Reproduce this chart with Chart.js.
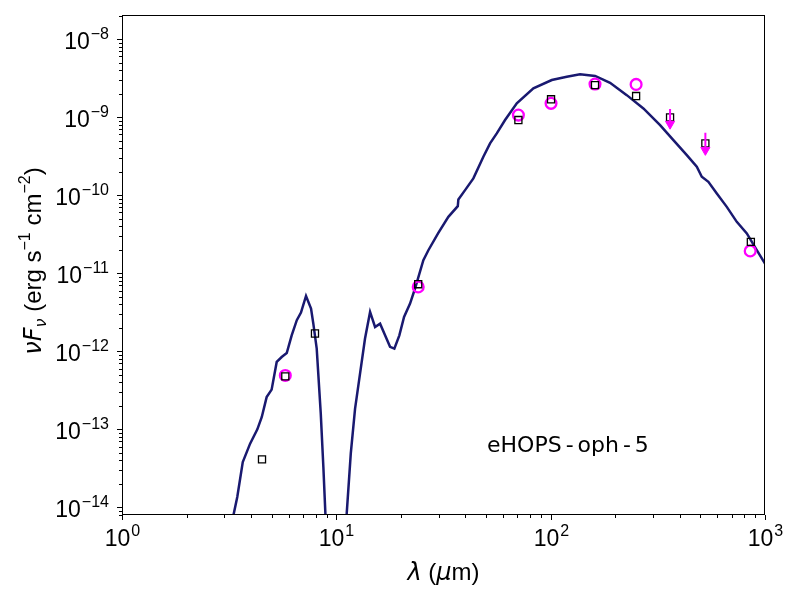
<!DOCTYPE html>
<html>
<head>
<meta charset="utf-8">
<script src="https://cdn.jsdelivr.net/npm/chart.js@4"></script>
<style>body{margin:0;background:#fff}</style>
</head>
<body>
<canvas id="sed" width="800" height="600"></canvas>
<script>
// model SED (wavelength in micron, nuFnu in erg/s/cm2)
const modelWave = [3.14, 3.45, 3.66, 3.96, 4.28, 4.49, 4.73, 4.99, 5.27, 5.56,
    5.87, 6.19, 6.54, 6.84, 7.22, 7.62, 7.81, 8.10, 8.46, 8.70,
    8.89, 9.3, 10.7, 11.18, 11.68, 12.23, 12.90, 13.61, 14.37, 15.16,
    16.00, 16.88, 17.81, 18.65, 19.68, 20.70, 22.08, 23.29, 25.47, 26.88,
    29.92, 33.32, 36.87, 37.10, 39.87, 43.59, 48.53, 52.15, 56.05, 61.27,
    69.49, 83.06, 101.2, 118.9, 137.1, 161.2, 189.3, 226.5, 270.8, 324.0,
    373.8, 431.7, 480.6, 507.0, 544.3, 595.9, 663.3, 738.5, 822.6, 915.6, 1000];
const modelFlux = [4e-15, 1.36e-14, 3.81e-14, 6.56e-14, 1.0e-13, 1.44e-13, 2.59e-13, 3.23e-13, 7.3e-13, 8.45e-13,
    9.5e-13, 1.60e-12, 2.50e-12, 3.13e-12, 5.12e-12, 3.53e-12, 2.26e-12, 1.08e-12, 1.59e-13, 3.29e-14,
    8.4e-15, 1e-16, 1e-16, 8.4e-15, 4.92e-14, 1.84e-13, 5.18e-13, 1.46e-12, 3.19e-12, 2.05e-12,
    2.26e-12, 1.60e-12, 1.14e-12, 1.08e-12, 1.60e-12, 2.75e-12, 4.09e-12, 6.37e-12, 1.47e-11, 1.97e-11,
    3.29e-11, 5.27e-11, 7.23e-11, 8.81e-11, 1.16e-10, 1.64e-10, 3.10e-10, 4.60e-10, 6.18e-10, 9.16e-10,
    1.50e-9, 2.33e-9, 2.98e-9, 3.29e-9, 3.53e-9, 3.36e-9, 2.75e-9, 1.91e-9, 1.29e-9, 7.89e-10,
    5.07e-10, 3.26e-10, 2.31e-10, 1.72e-10, 1.48e-10, 1.05e-10, 7.08e-11, 4.55e-11, 3.23e-11, 1.97e-11, 1.33e-11];

// model photometry (squares)
const photWave = [4.50, 5.78, 7.95, 24.1, 70.7, 100.4, 161, 250.4, 360.6, 527, 859];
const photFlux = [4.12e-14, 4.78e-13, 1.69e-12, 7.23e-12, 9.16e-10, 1.69e-9, 2.57e-9, 1.86e-9, 9.9e-10, 4.6e-10, 2.52e-11];

// observed fluxes (circles)
const obsWave = [5.78, 24.1, 70.7, 100.4, 161, 250.4, 853];
const obsFlux = [4.9e-13, 6.67e-12, 1.06e-9, 1.50e-9, 2.65e-9, 2.62e-9, 1.93e-11];

// upper limits
const limWave = [360.6, 527];
const limTop = [1.27e-9, 6.29e-10];
const limArrow = [8.18e-10, 3.78e-10];

const xMin = 1, xMax = 1000;
const yMin = 8.0e-15, yMax = 2.03e-8;
const label = 'eHOPS-oph-5';

const pts = (xs, ys) => xs.map((x, i) => ({ x: x, y: ys[i] }));

const limLines = [];
limWave.forEach((w, i) => {
    limLines.push({ x: w, y: limTop[i] });
    limLines.push({ x: w, y: limArrow[i] });
    limLines.push({ x: w, y: null });
});

const tickFont = '23px "Liberation Sans Narrow", "Liberation Sans", sans-serif';
const supFont = '16px "Liberation Sans Narrow", "Liberation Sans", sans-serif';

function drawPow(ctx, exp, x, y, align) {
    const sup = (exp < 0 ? '\u2212' : '') + Math.abs(exp);
    ctx.font = tickFont;
    const w1 = ctx.measureText('10').width;
    ctx.font = supFont;
    const w2 = ctx.measureText(sup).width;
    let left = align === 'right' ? x - w1 - w2 - 1 : x - (w1 + w2 + 1) / 2;
    ctx.textAlign = 'left';
    ctx.textBaseline = 'alphabetic';
    ctx.font = tickFont;
    ctx.fillText('10', left, y);
    ctx.font = supFont;
    ctx.fillText(sup, left + w1 + 1, y - 10);
}

// draw a run of [text, font, dy] pieces starting at x
function drawRun(ctx, parts, x, y) {
    let cx = x;
    parts.forEach(p => {
        ctx.font = p[1];
        ctx.fillText(p[0], cx, y + (p[2] || 0));
        cx += ctx.measureText(p[0]).width + (p[3] || 0);
    });
    return cx - x;
}
function runWidth(ctx, parts) {
    let w = 0;
    parts.forEach(p => { ctx.font = p[1]; w += ctx.measureText(p[0]).width + (p[3] || 0); });
    return w;
}

const axesPlugin = {
    id: 'axesPlugin',
    afterDraw(chart) {
        const ctx = chart.ctx;
        const a = chart.chartArea;
        const xs = chart.scales.x, ys = chart.scales.y;
        ctx.save();
        ctx.strokeStyle = '#000';
        ctx.fillStyle = '#000';
        ctx.lineWidth = 1;
        ctx.strokeRect(a.left + 0.5, a.top + 0.5, a.right - a.left - 1, a.bottom - a.top - 1);

        // x ticks
        for (let d = 0; d <= 3; d++) {
            for (let k = 1; k <= 9; k++) {
                const v = k * Math.pow(10, d);
                if (v < xMin || v > xMax) continue;
                const px = Math.round(xs.getPixelForValue(v)) + 0.5;
                const len = k === 1 ? 5 : 3;
                ctx.beginPath();
                ctx.moveTo(px, a.bottom);
                ctx.lineTo(px, a.bottom + len);
                ctx.stroke();
                if (k === 1) drawPow(ctx, d, px, a.bottom + 31, 'center');
            }
        }
        // y ticks
        for (let d = -15; d <= -8; d++) {
            for (let k = 1; k <= 9; k++) {
                const v = k * Math.pow(10, d);
                if (v < yMin || v > yMax) continue;
                const py = Math.round(ys.getPixelForValue(v)) + 0.5;
                const len = k === 1 ? 5 : 3;
                ctx.beginPath();
                ctx.moveTo(a.left, py);
                ctx.lineTo(a.left - len, py);
                ctx.stroke();
                if (k === 1) drawPow(ctx, d, a.left - 13, py + 9, 'right');
            }
        }

        // x axis title
        const rom = '24px "Liberation Sans", sans-serif';
        const ita = 'italic 24px "DejaVu Sans", sans-serif';
        ctx.textAlign = 'left';
        ctx.textBaseline = 'alphabetic';
        const xParts = [['\u03bb', ita], [' (', rom], ['\u03bc', ita], ['m)', rom]];
        const xw = runWidth(ctx, xParts);
        drawRun(ctx, xParts, (a.left + a.right) / 2 - xw / 2, 580);

        // y axis title
        const sub = 'italic 16px "DejaVu Sans", sans-serif';
        const sm = '16px "Liberation Sans", sans-serif';
        const yParts = [['\u03bd', ita], ['F', ita], ['\u03bd', sub, 5, 0], [' (erg s', rom],
            ['\u22121', sm, -11], [' cm', rom], ['\u22122', sm, -11], [')', rom]];
        ctx.save();
        ctx.translate(41, (a.top + a.bottom) / 2 - 4);
        ctx.rotate(-Math.PI / 2);
        const yw = runWidth(ctx, yParts);
        drawRun(ctx, yParts, -yw / 2, 0);
        ctx.restore();

        // source name
        ctx.font = '22px "DejaVu Sans", sans-serif';
        const bits = label.split('-');
        let cx = 487;
        bits.forEach((b, i) => {
            ctx.fillText(b, cx, 452);
            cx += ctx.measureText(b).width;
            if (i < bits.length - 1) {
                cx += 4;
                ctx.fillText('-', cx, 452);
                cx += ctx.measureText('-').width + 4;
            }
        });
        ctx.restore();
    }
};

new Chart(document.getElementById('sed'), {
    type: 'scatter',
    data: {
        datasets: [
            {
                label: 'limit arrows',
                data: pts(limWave, limArrow),
                pointStyle: 'triangle',
                rotation: 180,
                pointRadius: 5.3,
                backgroundColor: '#ff00ff',
                borderColor: '#ff00ff',
                borderWidth: 1,
                order: 1
            },
            {
                label: 'limit lines',
                data: limLines,
                showLine: true,
                spanGaps: false,
                pointRadius: 0,
                borderColor: '#ff00ff',
                borderWidth: 2,
                order: 2
            },
            {
                label: 'model photometry',
                data: pts(photWave, photFlux),
                pointStyle: 'rect',
                pointRadius: 5,
                backgroundColor: 'rgba(0,0,0,0)',
                borderColor: '#000',
                borderWidth: 1.3,
                order: 3
            },
            {
                label: 'observed',
                data: pts(obsWave, obsFlux),
                pointStyle: 'circle',
                pointRadius: 5.4,
                backgroundColor: 'rgba(0,0,0,0)',
                borderColor: '#ff00ff',
                borderWidth: 2.3,
                order: 4
            },
            {
                label: 'model',
                data: pts(modelWave, modelFlux),
                showLine: true,
                pointRadius: 0,
                borderColor: '#191970',
                borderWidth: 2.5,
                tension: 0,
                clip: 0,
                order: 5
            }
        ]
    },
    options: {
        responsive: false,
        devicePixelRatio: 1,
        animation: false,
        layout: { padding: { left: 122, right: 35, top: 15, bottom: 85 } },
        plugins: {
            legend: { display: false },
            tooltip: { enabled: false }
        },
        scales: {
            x: { type: 'logarithmic', min: xMin, max: xMax, display: false },
            y: { type: 'logarithmic', min: yMin, max: yMax, display: false }
        }
    },
    plugins: [axesPlugin]
});
</script>
</body>
</html>
